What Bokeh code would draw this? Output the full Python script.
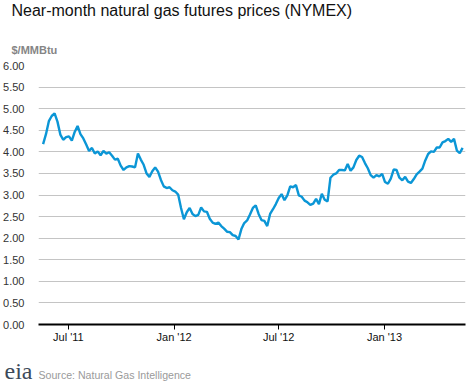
import pandas as pd
from bokeh.plotting import figure
from bokeh.models import FixedTicker, NumeralTickFormatter, Range1d, Title
from bokeh.embed import file_html
from bokeh.resources import INLINE

# ---- data ----
start_date = "2011-05-18"
step = "5D"
prices = [
    4.18, 4.41, 4.71, 4.83, 4.89, 4.70, 4.40, 4.28, 4.34, 4.36,
    4.26, 4.46, 4.60, 4.41, 4.31, 4.17, 4.02, 4.09, 3.96, 4.01,
    3.92, 4.02, 3.96, 3.99, 3.91, 3.82, 3.84, 3.68, 3.58, 3.64,
    3.67, 3.66, 3.64, 3.96, 3.82, 3.70, 3.50, 3.42, 3.55, 3.64,
    3.54, 3.35, 3.20, 3.16, 3.18, 3.11, 3.08, 3.01, 2.70, 2.44,
    2.60, 2.70, 2.56, 2.51, 2.54, 2.71, 2.62, 2.61, 2.45, 2.36,
    2.33, 2.36, 2.28, 2.22, 2.15, 2.14, 2.07, 2.05, 1.97, 2.21,
    2.35, 2.41, 2.55, 2.70, 2.76, 2.56, 2.42, 2.40, 2.28, 2.56,
    2.67, 2.79, 2.93, 3.02, 2.88, 2.99, 3.20, 3.18, 3.23, 2.99,
    2.96, 2.87, 2.83, 2.77, 2.80, 2.91, 2.79, 3.03, 2.89, 2.85,
    3.40, 3.47, 3.50, 3.58, 3.58, 3.57, 3.72, 3.56, 3.64, 3.81,
    3.91, 3.88, 3.74, 3.62, 3.46, 3.40, 3.46, 3.43, 3.49, 3.30,
    3.26, 3.38, 3.59, 3.58, 3.40, 3.34, 3.42, 3.31, 3.28, 3.37,
    3.48, 3.54, 3.61, 3.80, 3.95, 4.01, 4.00, 4.10, 4.10, 4.22,
    4.25, 4.30, 4.23, 4.30, 4.03, 3.97, 4.09,
]
tick_dates = ["2011-07-01", "2012-01-01", "2012-07-01", "2013-01-01"]
tick_labels = ["Jul '11", "Jan '12", "Jul '12", "Jan '13"]
y_ticks = [0.0, 0.5, 1.0, 1.5, 2.0, 2.5, 3.0, 3.5, 4.0, 4.5, 5.0, 5.5, 6.0]
x_start, x_end = "2011-05-10", "2013-05-22"

title_text = "Near-month natural gas futures prices (NYMEX)"
unit_text = "$/MMBtu"
source_text = "Source: Natural Gas Intelligence"
logo_text = "eia"

FONT = "Liberation Sans"

dates = pd.date_range(start_date, periods=len(prices), freq=step)

W, H = 470, 383
BL, BR, BT, BB = 34, 5, 65, 59
p = figure(width=W, height=H, x_axis_type="datetime", output_backend="svg",
           toolbar_location=None,
           x_range=Range1d(pd.Timestamp(x_start), pd.Timestamp(x_end)),
           y_range=Range1d(0, 6),
           min_border_left=BL, min_border_right=BR,
           min_border_top=BT, min_border_bottom=BB)
p.outline_line_color = None
p.background_fill_color = "white"

p.line(dates, prices, line_color="#0b96d6", line_width=2.4)

# y axis
p.yaxis.ticker = FixedTicker(ticks=y_ticks)
p.yaxis.formatter = NumeralTickFormatter(format="0.00")
p.yaxis.axis_line_color = None
p.yaxis.major_tick_line_color = None
p.yaxis.minor_tick_line_color = None
p.yaxis.major_label_text_font = FONT
p.yaxis.major_label_text_font_size = "11px"
p.yaxis.major_label_text_color = "#333333"
p.yaxis.major_label_standoff = 8

# x axis
tick_ms = [pd.Timestamp(d).value // 10**6 for d in tick_dates]
p.xaxis.ticker = FixedTicker(ticks=tick_ms)
p.xaxis.major_label_overrides = {float(t): l for t, l in zip(tick_ms, tick_labels)}
p.xaxis.axis_line_color = "black"
p.xaxis.axis_line_width = 2
p.xaxis.major_tick_line_color = "black"
p.xaxis.major_tick_line_width = 1
p.xaxis.major_tick_out = 5
p.xaxis.major_tick_in = 0
p.xaxis.minor_tick_line_color = None
p.xaxis.major_label_text_font = FONT
p.xaxis.major_label_text_font_size = "11px"
p.xaxis.major_label_text_color = "#111111"
p.xaxis.major_label_standoff = 1

p.xgrid.grid_line_color = None
p.ygrid.ticker = FixedTicker(ticks=y_ticks)
p.ygrid.grid_line_color = "#c4c4c4"
p.ygrid.grid_line_width = 1

# ---- titles above (first added sits nearest the frame) ----
p.add_layout(Title(text=unit_text, align="left", offset=7 - BL, standoff=19,
                   text_font=FONT, text_font_size="11px", text_font_style="bold",
                   text_color="#858585"), "above")
p.add_layout(Title(text=" ", align="left", standoff=4,
                   text_font=FONT, text_font_size="10px"), "above")
p.add_layout(Title(text=title_text, align="left", offset=7 - BL, standoff=-6,
                   text_font=FONT, text_font_size="16px", text_font_style="normal",
                   text_color="#111111"), "above")

# ---- footer below ----
p.add_layout(Title(text=" ", align="left", standoff=7,
                   text_font=FONT, text_font_size="10px"), "below")
p.add_layout(Title(text=source_text, align="left", offset=0, standoff=2,
                   text_font=FONT, text_font_size="10.6px", text_font_style="normal",
                   text_color="#9a9a9a"), "below")
p.add_layout(Title(text=logo_text, align="left", offset=-BL, standoff=-47,
                   vertical_align="top",
                   text_font="Liberation Serif", text_font_size="24px",
                   text_font_style="normal", text_color="#3c4a5a"), "below")

open("out.html", "w").write(file_html(p, INLINE))
